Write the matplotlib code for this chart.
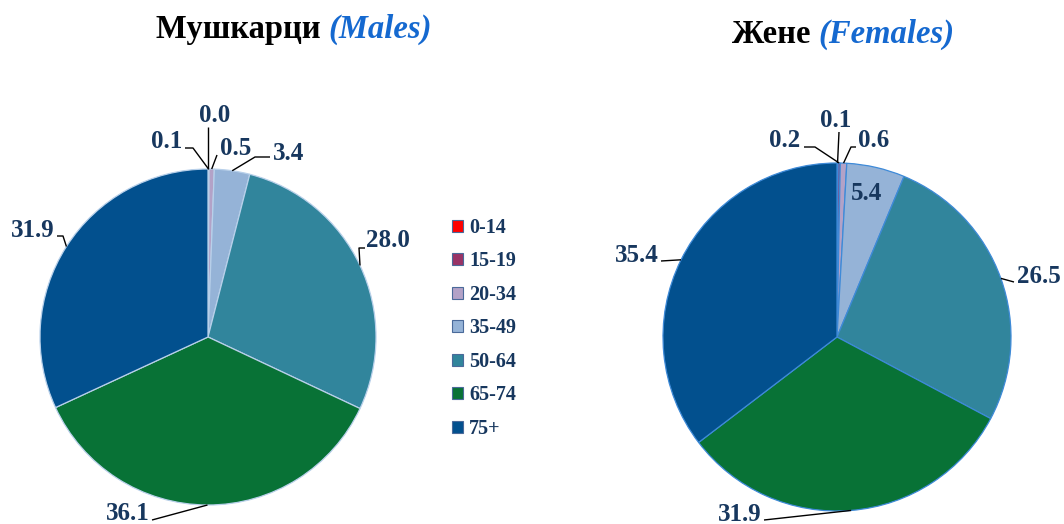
import matplotlib
matplotlib.use("Agg")
import matplotlib.pyplot as plt
from matplotlib.patches import Patch
import numpy as np

# ---- data ----
age_groups = ["0-14", "15-19", "20-34", "35-49", "50-64", "65-74", "75+"]
males = [0.0, 0.1, 0.5, 3.4, 28.0, 36.1, 31.9]
females = [0.1, 0.2, 0.6, 5.4, 26.5, 31.9, 35.4]
title_m = ("Мушкарци ", "(Males)")
title_f = ("Жене ", "(Females)")

colors = ["#FF0000", "#993366", "#B3A2C7", "#95B3D7", "#31859C", "#087236", "#02508E"]
NAVY = "#17375E"
BLUE = "#1569D0"
SERIF = ["Liberation Serif", "DejaVu Serif"]

W, H = 1064, 524
fig = plt.figure(figsize=(W / 100, H / 100), dpi=100)
ax = fig.add_axes([0, 0, 1, 1])


def Y(y):
    return H - y


# layout (image pixel coords): label baseline positions and leader elbows
male_layout = {
    "0-14": dict(text=(215, 122), ha="center", path=[(208, 127)]),
    "15-19": dict(text=(167, 148), ha="center", path=[(193, 148), (185, 148)]),
    "20-34": dict(text=(236, 155), ha="center", path=[(217, 155)]),
    "35-49": dict(text=(289, 160), ha="center", path=[(255, 157), (270, 157)]),
    "50-64": dict(text=(366, 247), ha="left", path=[(359, 248), (365, 248)]),
    "65-74": dict(text=(128, 520), ha="center", path=[(152, 520)]),
    "75+": dict(text=(33, 237), ha="center", path=[(63, 236), (57, 236)]),
}
female_layout = {
    "0-14": dict(text=(836, 127), ha="center", path=[(839, 132)]),
    "15-19": dict(text=(785, 147), ha="center", path=[(815, 147), (804, 147)]),
    "20-34": dict(text=(874, 147), ha="center", path=[(851, 147), (856, 147)]),
    "35-49": dict(text=(867, 200), ha="center", path=None),
    "50-64": dict(text=(1017, 283), ha="left", path=[(1014, 282)]),
    "65-74": dict(text=(740, 521), ha="center", path=[(764, 520)]),
    "75+": dict(text=(637, 262), ha="center", path=[(661, 261)]),
}


def draw_pie(values, cx, cy, r, edge, layout):
    wedges, _ = ax.pie(values, colors=colors, startangle=90, counterclock=False,
                       center=(cx, Y(cy)), radius=r,
                       wedgeprops=dict(edgecolor=edge, linewidth=0.9), frame=True)
    for w, g, v in zip(wedges, age_groups, values):
        spec = layout[g]
        mid = np.deg2rad((w.theta1 + w.theta2) / 2)
        ax_, ay_ = cx + r * np.cos(mid), Y(cy) + r * np.sin(mid)
        if spec["path"]:
            xs = [ax_] + [p[0] for p in spec["path"]]
            ys = [ay_] + [Y(p[1]) for p in spec["path"]]
            ax.plot(xs, ys, color="black", lw=1.0, solid_capstyle="butt", zorder=3)
        tx, ty = spec["text"]
        ax.text(tx, Y(ty), f"{v:.1f}", ha=spec["ha"], va="baseline",
                fontsize=18, fontweight="bold", color=NAVY, family=SERIF, zorder=4)
    return wedges


draw_pie(males, 208, 337, 168, "#B8D0EA", male_layout)
draw_pie(females, 837, 337, 174, "#3E8AD8", female_layout)

ax.set_xlim(0, W)
ax.set_ylim(0, H)
ax.set_aspect("equal")
ax.axis("off")

# titles: two-colour text
fig.canvas.draw()
renderer = fig.canvas.get_renderer()


def two_part_title(parts, cx, y):
    t1 = ax.text(0, Y(y), parts[0], fontsize=23.5, fontweight="bold", color="black",
                 family=SERIF, ha="left", va="baseline")
    t2 = ax.text(0, Y(y), parts[1], fontsize=23.5, fontweight="bold", style="italic",
                 color=BLUE, family=SERIF, ha="left", va="baseline")
    w1 = t1.get_window_extent(renderer).width
    w2 = t2.get_window_extent(renderer).width
    x0 = cx - (w1 + w2) / 2
    t1.set_x(x0)
    t2.set_x(x0 + w1)


two_part_title(title_m, 294, 38)
two_part_title(title_f, 843, 43)

# legend
handles = [Patch(facecolor=c, edgecolor="#4A6A9A", linewidth=0.8) for c in colors]
leg = ax.legend(handles, age_groups, loc="upper left",
                bbox_to_anchor=(452 / W, 1 - 218 / H), bbox_transform=fig.transFigure,
                frameon=False, handlelength=0.55, handleheight=0.55, handletextpad=0.3,
                labelspacing=0.67, borderaxespad=0, borderpad=0,
                prop=dict(family=SERIF, weight="bold", size=14.5), labelcolor=NAVY)

fig.savefig("out.png", dpi=100)
